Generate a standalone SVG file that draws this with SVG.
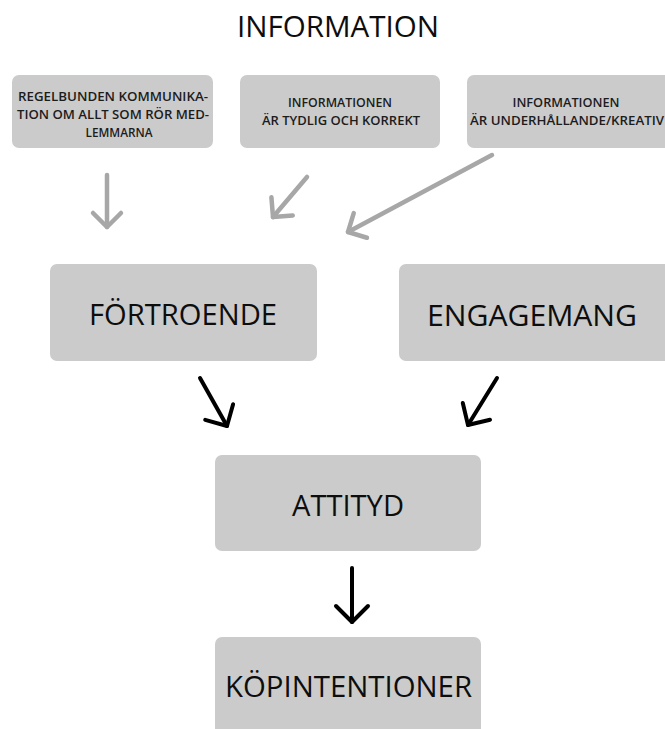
<svg xmlns="http://www.w3.org/2000/svg" width="665" height="729" viewBox="0 0 665 729">
<style>
.box{fill:#cbcbcb}
.t{font-family:"Open Sans","Liberation Sans",sans-serif;fill:#0d0d0d;text-anchor:middle}
.big{font-size:30px}
.small{font-size:13px;font-weight:600;fill:#1c1c1c}
.g{stroke:#a7a7a7;stroke-width:4.5;fill:none;stroke-linecap:round;stroke-linejoin:round}
.k{stroke:#000;stroke-width:4;fill:none;stroke-linecap:round;stroke-linejoin:round}
</style>
<defs>
<marker id="hg" markerUnits="userSpaceOnUse" viewBox="-20 -20 40 40" markerWidth="40" markerHeight="40" refX="0" refY="0" orient="auto">
<path d="M-14,-14 L0,0 L-14,14" fill="none" stroke="#a7a7a7" stroke-width="4.5" stroke-linecap="round" stroke-linejoin="round"/>
</marker>
<marker id="hk" markerUnits="userSpaceOnUse" viewBox="-20 -20 40 40" markerWidth="40" markerHeight="40" refX="0" refY="0" orient="auto">
<path d="M-16,-16 L0,0 L-16,16" fill="none" stroke="#000" stroke-width="4" stroke-linecap="round" stroke-linejoin="round"/>
</marker>
</defs>
<rect width="665" height="729" fill="#fff"/>
<g id="title"><text class="t big" x="338" y="37" textLength="202" lengthAdjust="spacingAndGlyphs">INFORMATION</text></g>
<g id="n1"><rect class="box" x="12" y="75" width="201" height="73" rx="7"/>
<text class="t small" x="113" y="100.5" textLength="190" lengthAdjust="spacingAndGlyphs">REGELBUNDEN KOMMUNIKA-</text>
<text class="t small" x="113" y="119" textLength="192" lengthAdjust="spacingAndGlyphs">TION OM ALLT SOM RÖR MED-</text>
<text class="t small" x="119" y="137" textLength="67" lengthAdjust="spacingAndGlyphs">LEMMARNA</text></g>
<g id="n2"><rect class="box" x="240" y="75" width="200" height="73" rx="7"/>
<text class="t small" x="340" y="107" textLength="104" lengthAdjust="spacingAndGlyphs">INFORMATIONEN</text>
<text class="t small" x="341" y="125" textLength="158" lengthAdjust="spacingAndGlyphs">ÄR TYDLIG OCH KORREKT</text></g>
<g id="n3"><rect class="box" x="467" y="75" width="205" height="73" rx="7"/>
<text class="t small" x="566" y="107" textLength="107" lengthAdjust="spacingAndGlyphs">INFORMATIONEN</text>
<text class="t small" x="567" y="125" textLength="194" lengthAdjust="spacingAndGlyphs">ÄR UNDERHÅLLANDE/KREATIV</text></g>
<g id="n4"><rect class="box" x="50" y="264" width="267" height="97" rx="7"/>
<text class="t big" x="183" y="325" textLength="188" lengthAdjust="spacingAndGlyphs">FÖRTROENDE</text></g>
<g id="n5"><rect class="box" x="399" y="264" width="275" height="97" rx="7"/>
<text class="t big" x="532" y="326" textLength="210" lengthAdjust="spacingAndGlyphs">ENGAGEMANG</text></g>
<g id="n6"><rect class="box" x="215" y="455" width="266" height="96" rx="7"/>
<text class="t big" x="348" y="516" textLength="112" lengthAdjust="spacingAndGlyphs">ATTITYD</text></g>
<g id="n7"><rect class="box" x="215" y="637" width="266" height="110" rx="7"/>
<text class="t big" x="348.5" y="697" textLength="247" lengthAdjust="spacingAndGlyphs">KÖPINTENTIONER</text></g>
<g id="connectors">
<path class="g" d="M107,175 L107,227" marker-end="url(#hg)"/>
<path class="g" d="M307,177 L273,217" marker-end="url(#hg)"/>
<path class="g" d="M492,155 L348,232" marker-end="url(#hg)"/>
<path class="k" d="M200,378 L227,426" marker-end="url(#hk)"/>
<path class="k" d="M497,378 L468,425" marker-end="url(#hk)"/>
<path class="k" d="M352,568 L352,622" marker-end="url(#hk)"/>
</g>
</svg>
